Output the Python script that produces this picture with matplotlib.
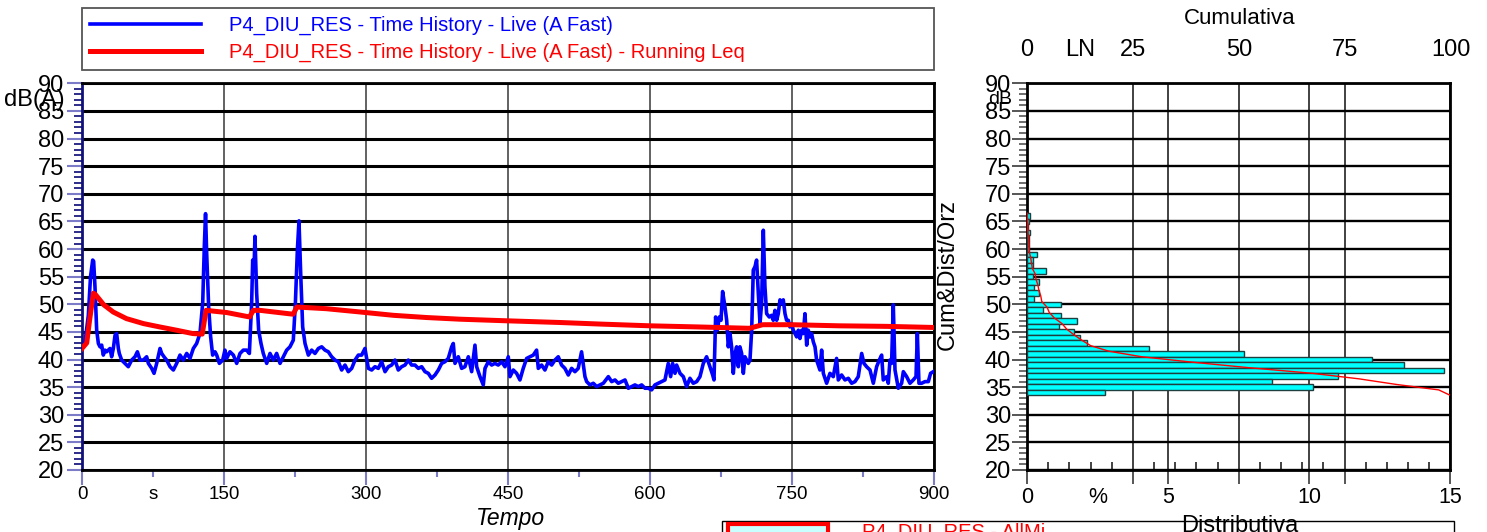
# Time history + distribution of P4_DIU_RES
import numpy as np
import matplotlib
matplotlib.use("Agg")
import matplotlib.pyplot as plt
from matplotlib.patches import Rectangle

plt.rcParams['font.family'] = ['Liberation Sans', 'DejaVu Sans']

# --- data: time history (s, dB(A)) ---
time_s = [0, 3, 6.7, 9, 11.3, 12.3, 13.7, 15.5, 17.3, 19, 20.8, 22.5, 24.3, 26, 29.6, 31.3, 33.1, 34.9,
          36.6, 38.4, 39.4, 41.9, 45.4, 48.9, 52.5, 56, 58.5, 61.3, 64.8, 68.3, 70.1, 73.6, 76.1, 78.9,
          82.4, 84.2, 86.6, 89.4, 93, 96.5, 100, 103.5, 107, 110.6, 114.1, 117.6, 121.1, 124.6, 127.5,
          129.2, 130.5, 131.7, 133.8, 135.9, 138, 140.5, 142.3, 145.1, 148.6, 151, 152.8, 156.3, 159.9,
          163.4, 166.9, 170.4, 173.9, 176.8, 179.2, 180.3, 181.7, 182.7, 184.5, 186.6, 189.1, 191.5,
          195.1, 198.6, 202.1, 205.6, 209.2, 212.7, 216.2, 219.7, 223.2, 225.4, 227.5, 229.2, 231, 233.1,
          235.6, 239.1, 242.6, 246.1, 249.7, 253.2, 256.7, 260.2, 263.7, 267.3, 270.8, 274.3, 277.8,
          281.3, 284.9, 288.4, 291.9, 295.4, 298.9, 302.5, 306.0, 309.5, 313.0, 316.5, 320.1, 323.6,
          327.1, 330.6, 334.1, 337.7, 341.2, 344.7, 348.2, 351.7, 355.3, 358.8, 362.3, 365.8, 369.3,
          372.9, 376.4, 379.9, 383.4, 386.9, 390.5, 392.2, 394.0, 397.5, 401.0, 404.5, 408.1, 411.6,
          415.1, 416.9, 420.4, 423.9, 425.7, 429.2, 432.7, 436.2, 439.7, 443.3, 446.8, 450.3, 452.1,
          455.6, 459.1, 462.6, 466.1, 469.7, 473.2, 476.7, 480.2, 482.0, 485.5, 489.0, 492.5, 496.1,
          499.6, 503.1, 506.6, 510.1, 513.7, 517.2, 520.7, 524.2, 527.7, 531.3,
          533.1, 536.6, 540.1, 543.6, 547.2, 550.7, 556.0, 559.5, 563.0, 566.5, 570.0, 573.6, 577.1,
          580.6, 584.1, 587.6, 591.2, 594.7, 598.2, 601.7, 605.2, 608.8, 612.3, 615.8, 617.6, 619.3,
          621.8, 623.9, 626.4, 628.1, 631.7, 635.2, 638.7, 642.2, 645.7, 649.3, 652.8, 656.3, 659.8,
          663.3, 666.2, 667.6, 669.3, 671.1, 673.2, 675.0, 676.7, 679.2, 681.0, 682.7, 684.5, 686.2,
          688.0, 689.8, 691.5, 693.3, 695.0, 696.8, 698.6, 700.3, 702.1, 703.8, 705.6, 707.4, 709.1,
          710.9, 712.6, 714.4, 716.2, 717.9, 719.7, 721.4, 723.2, 726.0, 728.5, 730.2, 732.0, 733.8,
          735.5, 737.3, 739.0, 740.8, 742.6, 744.3, 746.1, 747.8, 749.6, 751.4, 753.1, 754.9, 756.7,
          758.4, 760.2, 761.9, 763.7, 765.5, 767.2, 769.0, 770.7, 772.5, 774.3, 776.0, 779.5, 781.3,
          783.1, 786.6, 790.1, 793.6, 797.1, 798.9, 802.4, 806.0, 809.5, 813.0, 816.5, 820.0, 823.6,
          826.0, 828.8, 832.4, 835.9, 839.4, 842.2, 844.7, 846.4, 850.0, 851.7, 853.5, 855.2, 857.0,
          858.8, 862.3, 865.8, 867.6, 871.1, 874.6, 878.1, 881.0, 882.4, 884.1, 886.9, 890.5, 894.0,
          896.4, 899.3]
level_db = [42.0, 42.9, 48.0, 55.0, 58.0, 57.8, 53.2, 45.3, 42.9, 42.3, 42.6, 40.8, 41.7, 41.4, 42.0, 40.5, 42.0, 44.4,
            44.7, 42.0, 41.1, 39.9, 39.3, 38.7, 39.9, 40.5, 41.4, 39.9, 39.9, 40.5, 39.3, 38.4, 37.5, 39.3,
            42.0, 41.1, 40.5, 39.9, 38.7, 38.1, 39.3, 40.8, 39.9, 41.1, 40.2, 42.0, 42.9, 44.7, 50.2,
            60.4, 66.4, 59.2, 49.5, 44.1, 40.8, 41.4, 40.8, 39.3, 39.9, 41.7, 40.2, 41.4, 40.8,
            39.3, 41.1, 41.7, 41.7, 41.1, 50.2, 58.0, 56.2, 62.3, 52.0, 45.3, 42.9, 41.1,
            39.3, 41.1, 39.9, 41.1, 39.3, 40.5, 41.7, 42.3, 43.5, 50.2, 59.8, 65.1, 55.6, 45.9,
            42.9, 40.8, 41.7, 41.1, 42.0, 42.3, 41.7, 41.4, 40.5, 39.9, 39.6, 38.1, 39.0,
            37.8, 38.4, 39.9, 40.8, 40.8, 42.0, 38.4, 38.1, 38.7, 38.4, 39.6, 37.8, 38.7,
            39.0, 39.9, 38.1, 38.7, 39.0, 39.9, 39.0, 39.0, 38.4, 38.7, 37.8, 37.5, 36.6,
            37.2, 38.1, 39.3, 39.6, 40.2, 42.3, 42.9, 39.3, 40.5, 38.4, 38.7, 40.5, 37.8,
            42.6, 38.7, 36.9, 35.4, 38.4, 39.6, 39.0, 39.3, 39.0, 39.6, 38.7, 40.5, 36.9,
            38.1, 37.5, 36.3, 38.4, 40.2, 40.5, 40.8, 41.7, 38.4, 39.0, 38.1, 39.6, 39.0,
            39.9, 40.5, 39.0, 38.4, 37.2, 38.4, 37.8, 38.4, 41.4, 36.9,
            36.0, 35.4, 35.7, 35.1, 35.4, 35.7, 36.9, 36.0, 36.3, 35.7, 36.0, 36.3, 34.8,
            35.1, 35.4, 35.1, 35.4, 34.8, 34.8, 34.5, 35.4, 35.7, 36.0, 36.3, 37.8, 39.3,
            36.9, 39.3, 37.5, 39.0, 37.5, 36.9, 35.1, 36.6, 35.7, 36.0, 36.9, 39.3, 40.5,
            38.7, 37.2, 36.3, 47.7, 45.3, 47.7, 47.1, 52.3, 49.5, 47.1, 42.3, 44.7, 42.3,
            37.5, 41.1, 42.3, 38.7, 42.3, 41.1, 37.5, 40.5, 39.9, 39.3, 39.9, 45.3, 56.2,
            56.8, 58.0, 52.0, 46.5, 50.2, 63.4, 53.2, 48.3, 47.7, 48.0, 47.1, 48.9, 47.1,
            48.3, 50.8, 50.2, 50.8, 48.3, 47.1, 47.1, 45.9, 46.5, 45.3, 44.7, 44.1, 45.3,
            43.8, 45.3, 44.7, 48.3, 42.6, 45.3, 44.1, 44.7, 43.2, 42.3, 39.9, 38.1, 41.7,
            37.5, 35.7, 37.5, 36.9, 40.2, 36.3, 37.2, 36.3, 36.6, 35.7, 36.0, 36.9, 41.1,
            39.3, 38.7, 38.1, 35.7, 38.7, 39.9, 40.8, 36.3, 36.9, 35.7, 39.9, 39.3, 49.9,
            38.1, 34.8, 35.7, 37.8, 36.9, 35.7, 36.3, 36.9, 44.7, 35.7, 35.7, 36.0, 36.0,
            37.5, 37.8]

# --- data: running Leq ---
leq_t = [0, 5, 8, 12, 14, 23, 33, 47, 65, 82, 100, 117, 127, 131, 153, 177, 181, 188, 223, 227,
         258, 294, 329, 364, 399, 450, 505, 550, 600, 650, 705, 719, 750, 800, 850, 900]
leq_db = [42.0, 43.0, 47.1, 52.0, 51.8, 49.9, 48.6, 47.4, 46.5, 45.9, 45.3, 44.7, 44.6, 48.9, 48.5,
          47.7, 48.9, 48.9, 48.2, 49.5, 49.2, 48.6, 48.0, 47.6, 47.3, 47.0, 46.7, 46.4, 46.1, 45.9,
          45.65, 46.3, 46.3, 46.1, 46.0, 45.8]

# --- data: distribution (1 dB classes, %) ---
hist_levels = list(range(66, 33, -1))
hist_pct = [0.11, 0.08, 0.02, 0.10, 0.08, 0.06, 0.07, 0.34, 0.20, 0.20, 0.67, 0.20, 0.44, 0.24,
            0.44, 0.24, 1.22, 0.56, 1.22, 1.77, 1.12, 1.67, 1.88, 2.12, 4.33, 7.68, 12.22, 13.35,
            14.78, 11.00, 8.69, 10.12, 2.78]

time_ticks = [0, 150, 300, 450, 600, 750, 900]
pct_ticks = [0, 5, 10, 15]
cum_ticks = [0, 25, 50, 75, 100]

W, H = 1487, 532
fig = plt.figure(figsize=(W / 100, H / 100), dpi=100)

# ================= left: time history =================
ax = fig.add_axes([82 / W, 1 - 470 / H, 852 / W, 386.7 / H])
ax.plot(time_s, level_db, color='#0000ff', lw=2.6, zorder=3,
        label='P4_DIU_RES - Time History - Live (A Fast)')
ax.plot(leq_t, leq_db, color='#ff0000', lw=3.6, zorder=4,
        label='P4_DIU_RES - Time History - Live (A Fast) - Running Leq')
ax.set_xlim(0, 900)
ax.set_ylim(20, 90)
ax.set_yticks(range(20, 91, 5))
ax.set_yticks(range(20, 91), minor=True)
ax.set_xticks(time_ticks)
ax.set_xticks([75, 225, 375, 525, 675, 825], labels=['s', '', '', '', '', ''], minor=True)
ax.tick_params(axis='y', which='major', direction='out', length=11, width=1.5,
               color='#7b7bc8', labelsize=17, pad=2)
ax.tick_params(axis='y', which='minor', direction='out', length=5.5, width=1.3, color='#1c1c80')
ax.tick_params(axis='x', which='major', direction='out', length=11, width=1.5,
               color='#7b7bc8', labelsize=13.5, pad=0.5)
ax.tick_params(axis='x', which='minor', direction='out', length=5, width=1.5,
               color='#7b7bc8', labelsize=13.5, pad=6.5)
ax.grid(axis='y', which='major', color='black', lw=2.2)
ax.grid(axis='x', which='major', color='#555555', lw=1.3)
for s in ax.spines.values():
    s.set_linewidth(2)
ax.spines['left'].set_color('#10107a')

leg = ax.legend(loc='lower left', bbox_to_anchor=(0, 1.034, 1, 0.155), mode='expand',
                fontsize=14.5, fancybox=False, edgecolor='#555555', handlelength=5.5,
                handletextpad=1.4, borderpad=0.4, labelspacing=0.38, borderaxespad=0,
                labelcolor='linecolor', framealpha=1)
leg.get_frame().set_linewidth(1.3)

fig.text(4 / W, 1 - 100 / H, 'dB(A)', ha='left', va='center', fontsize=17)
fig.text(510 / W, 1 - 518 / H, 'Tempo', ha='center', va='center', fontsize=16.5, style='italic')

# ================= right: distribution =================
ax2 = fig.add_axes([1027 / W, 1 - 470 / H, 423.5 / W, 386.7 / H])
ax2.barh(hist_levels, hist_pct, height=1, color='#00ffff', edgecolor='#1f3f3f', lw=1, zorder=3)
ax2.set_xlim(0, 15)
ax2.set_ylim(20, 90)
ax2.set_yticks(range(20, 91, 5))
ax2.set_yticks(range(20, 91), minor=True)
# gridline positions: 5/10 % and 25/50/75 of the cumulative scale
grid_x = [0, 3.75, 5, 7.5, 10, 11.25, 15]
ax2.set_xticks(grid_x, labels=['0', '', '5', '', '10', '', '15'])
for pos, t in zip(grid_x, ax2.xaxis.get_major_ticks()):
    if pos not in (0, 15):
        t.tick1line.set_markersize(0)
ax2.set_xticks(np.arange(0.75, 15, 0.75), minor=True)
ax2.tick_params(axis='y', which='major', direction='out', length=11, width=1.4,
                color='#555555', labelsize=17, pad=0.5)
ax2.tick_params(axis='y', which='minor', direction='out', length=5.5, width=1.2, color='#555555')
ax2.tick_params(axis='x', which='major', direction='out', length=10, width=1.4,
                color='#555555', labelsize=15.5, pad=2)
ax2.tick_params(axis='x', which='minor', direction='in', length=5.5, width=1.2, color='#222222')
ax2.grid(axis='y', which='major', color='black', lw=1.7)
ax2.grid(axis='x', which='major', color='#333333', lw=1.3)
for s in ax2.spines.values():
    s.set_linewidth(2)
ax2.text(2.5, -0.0431, '%', transform=ax2.get_xaxis_transform(), ha='center', va='top',
         fontsize=15.5)

# cumulative curve on the top scale
ax3 = ax2.twiny()
ax3.set_xlim(0, 100)
ax3.set_xticks(cum_ticks)
ax3.set_xticks([12.5], labels=['LN'], minor=True)
ax3.tick_params(axis='x', which='both', length=0, labelsize=17, pad=16)
for s in ax3.spines.values():
    s.set_visible(False)
cum_y = [hist_levels[0] + 0.5] + [lv - 0.5 for lv in hist_levels]
cum_x = [0] + list(np.cumsum(hist_pct))
ax3.plot(cum_x, cum_y, color='#ff0000', lw=1, zorder=5)

fig.text(1000 / W, 1 - 99 / H, 'dB', ha='center', va='center', fontsize=14)
fig.text(948 / W, 1 - 275 / H, 'Cum&Dist/Orz', ha='center', va='center', fontsize=17, rotation=90)
fig.text(1240 / W, 1 - 18 / H, 'Cumulativa', ha='center', va='center', fontsize=16)
fig.text(1240 / W, 1 - 526 / H, 'Distributiva', ha='center', va='center', fontsize=17)

# second legend, cut by the bottom edge
fig.add_artist(Rectangle((722 / W, -0.05), 732 / W, 0.05 + 11 / H, transform=fig.transFigure,
                         facecolor='none', edgecolor='black', lw=1))
fig.add_artist(Rectangle((728 / W, -0.05), 100 / W, 0.05 + 8 / H, transform=fig.transFigure,
                         facecolor='#c8ffff', edgecolor='#ff0000', lw=3))
fig.text(862 / W, 1 - 523 / H, 'P4_DIU_RES - AllMi', ha='left', va='top', fontsize=14.5,
         color='#ff0000')

fig.savefig('out.png', dpi=100)
